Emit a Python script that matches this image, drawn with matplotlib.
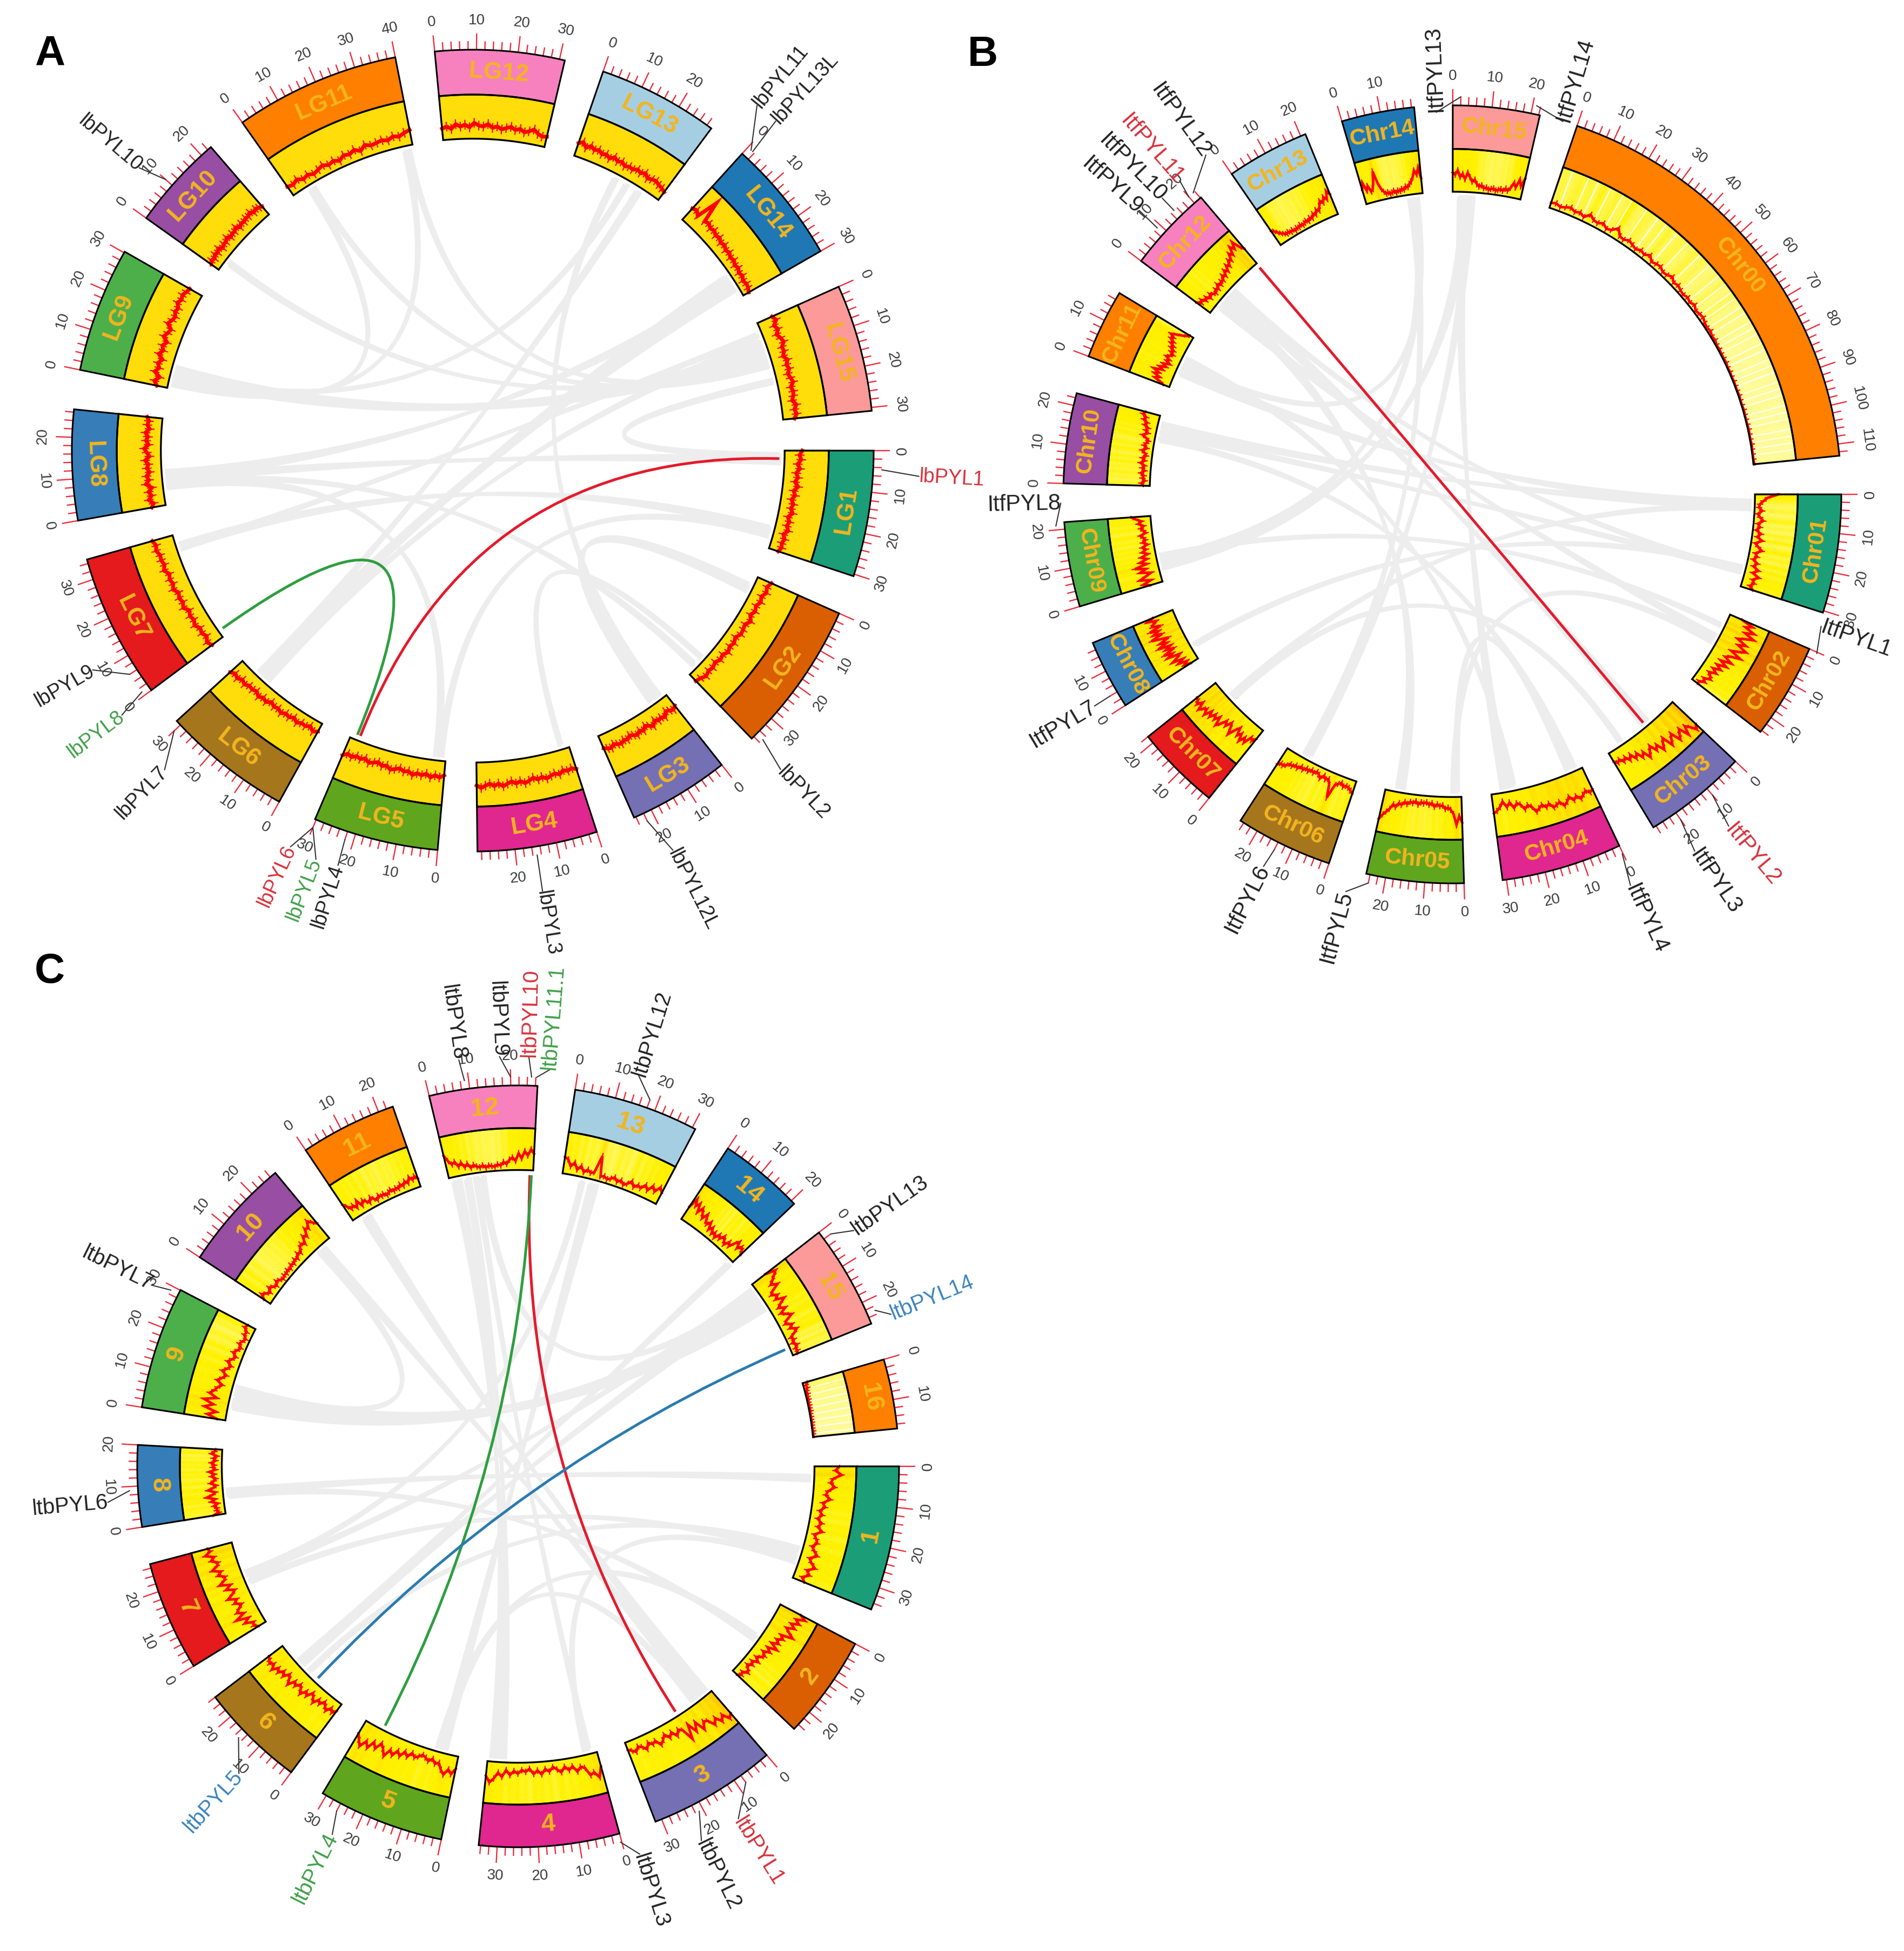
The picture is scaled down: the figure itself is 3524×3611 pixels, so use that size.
import numpy as np
import matplotlib
matplotlib.use("Agg")
import matplotlib.pyplot as plt
from matplotlib.path import Path
from matplotlib.patches import PathPatch, Polygon
from matplotlib.colors import LinearSegmentedColormap

plt.rcParams['font.family'] = ['Liberation Sans', 'DejaVu Sans']

PALETTE = ['#1B9E77', '#D95F02', '#7570B3', '#E0268F', '#5FA51E', '#A6761D', '#E41A1C', '#377EB8',
           '#4DAF4A', '#984EA3', '#FF7F00', '#F781BF', '#A6CEE3', '#1F78B4', '#FB9A99', '#FF7F00']

# ---------- Panel A ----------
NAMES_A = ['LG1','LG2','LG3','LG4','LG5','LG6','LG7','LG8','LG9','LG10','LG11','LG12','LG13','LG14','LG15']
LEN_A = [30.5, 36.7, 24.5, 29, 30.3, 31.3, 35, 26.7, 30.3, 23, 40, 31.3, 29.3, 30, 30.8]
DENS_A = {
 'LG1': [40,34,38,30,36,28,33,27,35,26,31,24,30,26,32,23,29,25,31,22,28,24,27,22],
 'LG2': [34,28,33,26,31,25,30,24,33,25,28,30,23,29,25,31,24,28,22,27,24,29,23,20],
 'LG3': [30,36,32,28,38,33,36,30,40,34,29,37,32,38,34,30,36,33,38,35,31,37,34,30],
 'LG4': [52,47,50,46,53,48,51,55,49,53,47,52,56,50,54,48,52,57,50,55,49,53,58,52],
 'LG5': [32,38,34,40,33,38,35,41,34,37,32,36,40,33,37,31,35,39,32,37,34,40,36,44],
 'LG6': [20,26,18,24,22,28,21,27,24,30,25,28,23,31,27,33,26,30,28,34,29,36,31,38],
 'LG7': [30,36,28,34,30,38,32,36,30,40,34,38,33,42,36,40,35,44,38,42,40,46,42,48],
 'LG8': [32,26,36,28,34,25,38,30,35,27,33,29,36,26,32,38,28,34,30,36,27,33,30,35],
 'LG9': [24,32,22,36,28,34,26,38,30,36,28,40,34,30,42,36,32,38,34,42,36,40,35,32],
 'LG10': [20,26,22,28,24,30,22,27,25,31,24,28,26,32,24,29,26,30,28,33,26,30,27,24],
 'LG11': [24,20,26,18,22,16,20,24,18,22,16,24,20,26,18,28,22,24,26,22,28,24,30,34],
 'LG12': [26,30,24,34,28,32,26,36,30,28,34,26,30,24,28,32,26,30,24,28,34,26,22,24],
 'LG13': [30,36,26,34,28,32,26,30,24,32,26,30,24,28,26,32,28,34,26,30,32,28,26,22],
 'LG14': [34,38,30,80,32,36,30,34,28,32,26,30,24,28,22,26,20,24,18,22,16,20,18,14],
 'LG15': [36,42,32,38,30,36,40,32,34,28,36,30,34,28,32,36,28,32,30,26,34,28,32,26],
}
LINKS_A = [('LG11',37,'LG9',1,1.0),('LG11',5,'LG9',2,1.0),('LG10',3,'LG15',10,1.2),('LG9',3,'LG15',9,2.5),
           ('LG9',5,'LG15',7,2.0),('LG11',38,'LG15',12,1.0),('LG11',6,'LG15',13,1.0),('LG13',14,'LG3',1.5,1.2),
           ('LG13',18,'LG9',4,1.0),('LG13',22,'LG6',24,1.5),('LG14',22,'LG6',23,2.5),('LG14',24,'LG8',8,2.5),
           ('LG14',26,'LG6',22,1.5),('LG15',5,'LG6',21,1.5),('LG15',3,'LG7',30,1.0),('LG1',1,'LG15',18,1.2),
           ('LG1',2,'LG8',7,2.0),('LG1',24,'LG7',30,2.0),('LG1',26,'LG5',1,1.2),('LG2',3,'LG3',3,2.5),
           ('LG2',33,'LG8',6,1.2),('LG5',2,'LG8',5,1.5),('LG4',2,'LG2',30,0.8)]
HILITE_A = [('LG1',2.5,'LG5',27.5,'#E41A2C'),('LG5',28.5,'LG7',2.2,'#2E9E3F')]
GENES_A = [('LG1',4.5,3.3,85,'lbPYL1','#D9303A'),('LG2',35,46,78,'lbPYL2','#222222'),('LG4',15,81,83,'lbPYL3','#222222'),
           ('LG3',22,63.4,85,'lbPYL12L','#222222'),('LG5',22,108,65,'lbPYL4','#222222'),('LG5',30,111,68,'lbPYL5','#3FA047'),
           ('LG5',30,114.7,65,'lbPYL6','#D9303A'),('LG6',30,134,79,'lbPYL7','#222222'),('LG7',1,143,71,'lbPYL8','#3FA047'),
           ('LG7',6,150,70,'lbPYL9','#222222'),('LG10',10,220.3,67,'lbPYL10','#222222'),('LG14',1,309.5,85,'lbPYL11','#222222'),
           ('LG14',1.5,312.6,86,'lbPYL13L','#222222')]

# ---------- Panel B ----------
NAMES_B = ['Chr01','Chr02','Chr03','Chr04','Chr05','Chr06','Chr07','Chr08','Chr09','Chr10','Chr11','Chr12','Chr13','Chr14','Chr15','Chr00']
LEN_B = [30.5, 24.5, 26.8, 31, 25, 25, 22, 17.9, 21.8, 23.2, 17.9, 22.2, 21.3, 18.7, 22.3, 113]
DENS_B = {
 'Chr01': [55,30,20,12,10,18,8,14,22,10,16,8,20,12,25,10,18,28,14,20,12,24,16,30,18,35,22,28,20,30],
 'Chr02': [30,60,45,70,50,75,55,40,65,48,72,58,40,68,45,35,55,30,50,28,42,25,38,22,30,35,20,28,15,18],
 'Chr03': [75,85,70,60,80,55,65,75,50,60,72,45,55,68,48,58,40,50,62,42,52,35,45,30,40,28,35,25,30,22],
 'Chr04': [55,60,52,58,65,55,62,50,60,66,54,58,62,50,56,48,54,60,46,40,48,35,30,40,25,35,20,32,40,45],
 'Chr05': [60,45,65,40,30,25,28,20,22,18,24,16,20,15,18,16,22,15,20,18,24,20,28,25,35,30,42,50,58,70],
 'Chr06': [30,25,20,18,22,15,20,25,60,30,18,22,15,25,18,14,20,16,22,18,25,20,28,24,30,28,35,40,38,45],
 'Chr07': [25,35,30,50,40,55,38,48,30,42,60,45,35,50,40,55,65,45,58,48,62,50,68,55,60,70,52,65,58,55],
 'Chr08': [20,35,25,45,30,55,40,30,60,45,65,35,55,40,70,45,60,35,55,75,45,65,50,70,40,60,55,45,65,50],
 'Chr09': [30,45,25,50,35,20,45,30,55,25,40,22,35,18,30,20,28,15,25,18,22,28,15,20,25,18,30,22,35,45],
 'Chr10': [15,20,12,18,15,22,14,20,15,25,16,22,14,18,25,15,22,18,14,20,30,18,25,20,30,25,35,30,40,35],
 'Chr11': [15,25,40,30,45,35,50,30,40,25,35,20,30,25,35,28,22,30,25,35,30,40,35,45,40,50,38,25,15,10],
 'Chr12': [40,30,35,25,30,20,28,22,18,25,20,30,22,28,25,35,28,40,32,45,38,50,45,60,52,70,60,75,55,45],
 'Chr13': [40,35,28,22,18,14,16,12,15,10,14,12,16,12,15,18,14,20,16,25,20,30,25,35,45,38,50,42,60,50],
 'Chr14': [35,50,30,40,25,30,45,70,40,25,18,12,14,10,12,15,10,14,12,16,14,20,18,25,30,40,55,45,60,35],
 'Chr15': [45,40,50,35,42,30,45,35,25,30,20,15,18,12,14,10,12,14,10,12,15,12,18,14,22,35,25,45,30,50],
 'Chr00': [12,15,10,14,18,12,16,10,22,14,12,18,10,14,26,12,10,16,12,8,14,10,18,8,12,14,8,10,16,8,
           12,8,6,10,6,12,5,8,10,6,4,7,3,5,2,3,2,2,3,1,2,1,2,1,1,2,1,1,2,1,1,1,2,1,1,2,1,1,1,2],
}
GAPS_B = {'Chr00': [3,8,11,15,19,22,27,31,34,38,42,47,51,55,58,61,63,66,68,71,73,75,78,80,83,85,87,90,92,94,97,99,101,104,106,108,110]}
LINKS_B = [('Chr11',5,'Chr01',2,2.5),('Chr14',16,'Chr11',8,1.0),('Chr14',15,'Chr09',6,2.0),('Chr15',3,'Chr09',4,3.0),
           ('Chr15',2,'Chr04',25,2.5),('Chr12',5,'Chr05',19,2.5),('Chr12',8,'Chr03',10,2.5),('Chr12',3,'Chr02',8,1.5),
           ('Chr12',10,'Chr01',25,1.0),('Chr10',19,'Chr01',3,2.0),('Chr10',17,'Chr01',25,1.2),('Chr10',15,'Chr04',2,1.0),
           ('Chr09',8,'Chr02',4,0.8),('Chr08',4,'Chr01',24,1.0),('Chr07',15,'Chr01',4,1.0),('Chr07',14,'Chr03',21,1.0),
           ('Chr06',18,'Chr14',14,1.5),('Chr06',17,'Chr15',5,2.0),('Chr05',1,'Chr04',4,1.2),('Chr05',2,'Chr02',10,1.0),
           ('Chr04',23,'Chr11',10,1.0)]
HILITE_B = [('Chr12',22,'Chr03',11.7,'#E41A2C')]
GENES_B = [('Chr02',0.3,19.7,5,'ItfPYL1','#222222'),('Chr03',10,50.2,79,'ItfPYL2','#D9303A'),('Chr03',20,55.8,78,'ItfPYL3','#222222'),
           ('Chr04',0.2,65.5,75,'ItfPYL4','#222222'),('Chr05',24,105,41,'ItfPYL5','#222222'),('Chr06',14,116.9,52,'ItfPYL6','#222222'),
           ('Chr08',4,149.4,49,'ItfPYL7','#222222'),('Chr09',21,178.7,5,'ItfPYL8','#222222'),('Chr12',9,222.2,62,'ItfPYL9','#222222'),
           ('Chr12',15,225.6,47,'ItfPYL10','#222222'),('Chr12',20,229,49,'ItfPYL11','#D9303A'),('Chr12',21.5,234,56,'ItfPYL12','#222222'),
           ('Chr15',2,267.6,-12,'ItfPYL13','#222222'),('Chr15',21,286.5,0,'ItfPYL14','#222222')]

# ---------- Panel C ----------
NAMES_C = ['1','2','3','4','5','6','7','8','9','10','11','12','13','14','15','16']
LEN_C = [35.6, 25.5, 31.6, 34.5, 31, 26, 27, 20, 30.1, 27.6, 23.7, 26.5, 30.8, 21, 25.6, 17.1]
DENS_C = {
 '1': [60,50,65,45,40,50,35,30,42,25,32,20,28,18,30,22,35,18,25,30,20,28,38,22,30,42,25,35,20,30],
 '2': [55,70,50,62,45,58,40,52,66,38,48,35,45,30,50,28,40,25,35,30,20,32,18,26,15,24,30,18,22,14],
 '3': [70,78,60,72,55,68,50,45,62,35,55,30,65,35,28,40,25,35,22,32,40,25,30,22,35,25,20,30,24,18],
 '4': [35,60,45,50,30,25,35,20,28,18,30,22,15,25,18,30,20,28,15,22,18,26,20,30,18,35,25,40,50,35],
 '5': [30,45,35,50,40,25,30,20,28,22,18,25,30,22,35,25,40,30,45,35,55,40,30,48,35,55,42,60,48,35],
 '6': [20,30,22,35,28,20,32,25,40,30,22,38,30,45,35,28,40,32,50,38,30,45,35,48,40,55,42,50,45,40],
 '7': [20,30,25,45,30,60,35,50,40,30,45,35,55,40,30,50,35,60,45,40,55,45,65,50,45,60,50,70,55,60],
 '8': [30,15,20,18,25,15,30,20,40,25,18,35,22,15,28,20,15,25,18,30,15,22,18,25,15,20,12,25,18,15],
 '9': [20,45,25,55,35,60,30,50,40,35,25,40,30,22,35,25,18,30,22,15,25,18,12,20,15,10,18,15,25,20],
 '10': [18,30,22,15,25,18,12,20,15,10,14,12,16,12,18,14,20,16,25,20,30,35,28,45,38,55,50,65,55,45],
 '11': [45,35,25,30,20,35,18,28,22,15,25,18,12,20,15,18,12,16,20,14,18,15,22,16,25,18,30,22,28,20],
 '12': [55,40,30,35,22,30,18,25,14,20,15,12,16,10,14,12,10,15,12,20,15,25,30,22,40,28,45,35,50,40],
 '13': [40,35,20,30,15,25,12,20,14,18,60,12,15,10,14,20,12,18,10,16,25,14,22,18,30,20,35,25,40,30],
 '14': [35,60,45,55,35,50,40,30,45,30,25,35,18,28,15,22,12,25,18,30,22,15,28,20,35,45,30,40,35,25],
 '15': [40,65,55,45,35,50,30,22,35,25,45,30,20,35,18,28,40,22,15,30,20,35,25,12,18,10,20,12,15,10],
 '16': [12,6,8,4,5,3,4,2,3,2,3,1,2,1,2,1,1,2,1,1],
}
GAPS_C = {'16': [2,4,6,8,10,12,14,16]}
LINKS_C = [('9',4,'15',6,3.0),('9',8,'15',4,2.5),('11',3,'3',1,2.5),('10',23,'3',4,1.8),('12',1,'4',31,2.5),('12',5,'4',29,1.5),
           ('13',9,'5',4,2.5),('14',20,'6',18,1.2),('15',3,'6',17,2.5),('9',10,'10',22,1.2),('8',6,'1',3,1.5),('8',5,'2',13,1.0),
           ('7',15,'15',1,1.2),('7',13,'1',28,1.0),('6',14,'1',26,1.0),('5',5,'3',6,1.0),('4',2,'12',8,1.0),('4',3,'1',30,1.0),
           ('12',10,'15',2,1.2),('2',12,'5',6,1.2),('13',6,'7',16,1.0)]
HILITE_C = [('12',25.5,'3',13,'#E41A2C'),('12',26,'5',25,'#2E9E3F'),('15',23,'6',11,'#2B7BB0')]
GENES_C = [('3',8,58,64,'ltbPYL1','#D9303A'),('3',21,63.9,66,'ltbPYL2','#222222'),('4',0.3,72.6,47,'ltbPYL3','#222222'),
           ('5',26,116.8,58,'ltbPYL4','#3FA047'),('6',15,132.3,63,'ltbPYL5','#3B84BE'),('8',9,175,57,'ltbPYL6','#222222'),
           ('9',29,206.3,52,'ltbPYL7','#222222'),('12',9,261.7,55,'ltbPYL8','#222222'),('12',20,267.4,54,'ltbPYL9','#222222'),
           ('12',25,271.5,53,'ltbPYL10','#D9303A'),('12',26.2,274.5,31,'ltbPYL11.1','#3FA047'),('13',18,287.2,51,'ltbPYL12','#222222'),
           ('15',2,324.9,54,'ltbPYL13','#222222'),('15',23,337.8,40,'ltbPYL14','#3B84BE')]

PANELS = [('A', 92, 100), ('B', 1819, 102), ('C', 92, 1799)]

W, H = 3524, 3611
fig = plt.figure(figsize=(W/100, H/100), dpi=100, facecolor='white')
ax = fig.add_axes([0, 0, 1, 1])
ax.set_xlim(0, W)
ax.set_ylim(H, 0)
ax.axis('off')

GAP = 5.7
HEAT = LinearSegmentedColormap.from_list('heat', ['#FFFBA0', '#FFF200', '#FFEE00', '#FFD400', '#FFA800'])


def facing(theta):
    rot = (90 - theta) % 360
    if rot > 180:
        rot -= 360
    if rot > 90:
        rot -= 180
    if rot <= -90:
        rot += 180
    return rot


def draw_circle(cx, cy, R, names, lens, dens, links, hilites, genes, flat_band, gaps, label_size, gene_size, dlw, fuzz):
    scale = (360 - len(names)*GAP) / sum(lens)
    start = {}
    t = 0.0
    for n, l in zip(names, lens):
        start[n] = t
        t += l*scale + GAP
    rmid, rin, rlink = R*0.888, R*0.778, R*0.765

    def P(r, th):
        a = np.radians(th)
        return cx + r*np.cos(a), cy + r*np.sin(a)

    def ang(n, pos):
        return start[n] + pos*scale

    for a, pa, b, pb, w in links:
        a1, a2 = ang(a, pa), ang(a, pa + w)
        b1, b2 = ang(b, pb), ang(b, pb + w)
        ta = np.linspace(a1, a2, 4)
        tb = np.linspace(b1, b2, 4)
        verts = [P(rlink, ta[0]), (cx, cy), P(rlink, tb[0])]
        codes = [Path.MOVETO, Path.CURVE3, Path.CURVE3]
        for x in tb[1:]:
            verts.append(P(rlink, x))
            codes.append(Path.LINETO)
        verts += [(cx, cy), P(rlink, ta[-1])]
        codes += [Path.CURVE3, Path.CURVE3]
        for x in ta[::-1][1:]:
            verts.append(P(rlink, x))
            codes.append(Path.LINETO)
        ax.add_patch(PathPatch(Path(verts, codes), fc='#EDEDED', ec='#EDEDED', lw=5, capstyle='butt', zorder=1))

    for a, pa, b, pb, c in hilites:
        verts = [P(rlink, ang(a, pa)), (cx, cy), P(rlink, ang(b, pb))]
        ax.add_patch(PathPatch(Path(verts, [Path.MOVETO, Path.CURVE3, Path.CURVE3]), fc='none', ec=c, lw=3.6, zorder=2))

    for i, (n, l) in enumerate(zip(names, lens)):
        th0, th1 = start[n], start[n] + l*scale
        arc = np.linspace(th0, th1, 60)
        outer = [P(R, x) for x in arc]
        mid = [P(rmid, x) for x in arc]
        inn = [P(rin, x) for x in arc]
        ax.add_patch(Polygon(outer + mid[::-1], closed=True, fc=PALETTE[i], ec='black', lw=2.2, zorder=4, joinstyle='miter'))
        vals = np.array(dens[n], float)
        vt = np.linspace(th0, th1, len(vals))
        if flat_band:
            ax.add_patch(Polygon(mid + inn[::-1], closed=True, fc='#FFDD0A', ec='none', zorder=3))
        else:
            X = np.array([[P(r, x)[0] for x in vt] for r in (rin, rmid)])
            Y = np.array([[P(r, x)[1] for x in vt] for r in (rin, rmid)])
            C = np.vstack([vals, vals]) / 100.0
            ax.pcolormesh(X, Y, C, cmap=HEAT, vmin=0, vmax=0.95, shading='gouraud', zorder=3)
        for g in gaps.get(n, []):
            gx = [P(r, ang(n, g))[0] for r in (rin, rmid)]
            gy = [P(r, ang(n, g))[1] for r in (rin, rmid)]
            ax.plot(gx, gy, color='white', lw=1.6, alpha=0.85, zorder=3.2)
        rr = rin + (rmid - rin)*vals/100.0
        lx, ly = P(rr, vt)
        ax.plot(lx, ly, color='#FF0000', lw=dlw, solid_joinstyle='miter', zorder=3.5)
        # fine spikes around every sampled value of the density track
        for rv, tv in zip(rr, vt):
            fx, fy = P(np.array([max(rv - fuzz, rin), min(rv + fuzz, rmid)]), tv)
            ax.plot(fx, fy, color='#FF0000', lw=1.6, zorder=3.5, solid_capstyle='butt')
        ax.add_patch(Polygon(mid + inn[::-1], closed=True, fc='none', ec='black', lw=2.4, zorder=4, joinstyle='miter'))
        # sector name
        tm = (th0 + th1)/2
        lxx, lyy = P((R + rmid)/2, tm)
        ax.text(lxx, lyy, n, rotation=facing(tm), rotation_mode='anchor', ha='center', va='center',
                fontsize=label_size, fontweight='bold', color='#F2B51E', zorder=5)
        # ticks
        for m in np.arange(0, l + 0.001, 2):
            x = ang(n, m)
            major = int(m) % 10 == 0
            x0, y0 = P(R, x)
            x1, y1 = P(R + (30 if major else 16), x)
            ax.plot([x0, x1], [y0, y1], color='#EE2C3C', lw=1.7, zorder=3, solid_capstyle='butt')
            if major:
                tx, ty = P(R + 54, x)
                ax.text(tx, ty, str(int(m)), rotation=facing(x), rotation_mode='anchor', ha='center', va='center',
                        fontsize=20, color='#3A3A3A', zorder=5)

    for n, pos, tl, off, txt, col in genes:
        tg = ang(n, pos)
        x0, y0 = P(R + 16, tg)
        x1, y1 = P(R + off, tl)
        ax.plot([x0, x1], [y0, y1], color='#333333', lw=1.5, zorder=5)
        right = (tg % 360 < 90) or (tg % 360 > 270)
        rot = -tl if right else 180 - tl
        rot = (rot + 180) % 360 - 180
        ax.text(x1, y1, txt, rotation=rot, rotation_mode='anchor', ha='left' if right else 'right', va='center',
                fontsize=gene_size, color=col, zorder=6)


draw_circle(875, 834, 742, NAMES_A, LEN_A, DENS_A, LINKS_A, HILITE_A, GENES_A, True, {}, 32, 27, 5.0, 9)
draw_circle(2688, 915, 720, NAMES_B, LEN_B, DENS_B, LINKS_B, HILITE_B, GENES_B, False, GAPS_B, 31, 30, 3.4, 6)
draw_circle(959, 2714, 705, NAMES_C, LEN_C, DENS_C, LINKS_C, HILITE_C, GENES_C, False, GAPS_C, 34, 29, 3.4, 6)

for letter, x, y in PANELS:
    ax.text(x, y, letter, fontsize=56, fontweight='bold', color='black', ha='center', va='center', zorder=7)

fig.savefig('out.png', dpi=100, facecolor='white')
